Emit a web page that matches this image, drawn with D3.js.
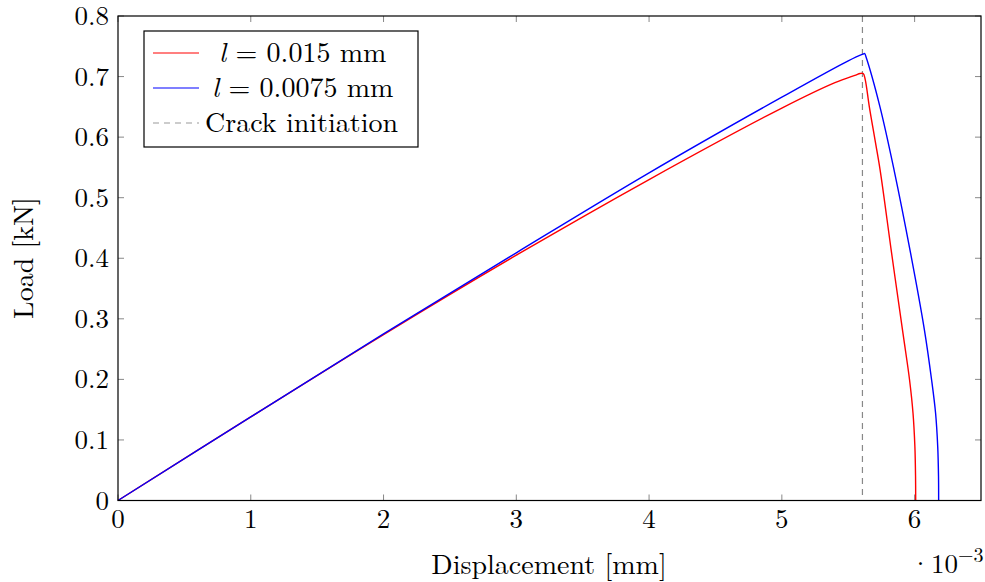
<!DOCTYPE html>
<html><head><meta charset="utf-8">
<script src="https://cdn.jsdelivr.net/npm/d3@7"></script>
<style>body{margin:0;background:#fff}svg{display:block}text{font-family:"Latin Modern Roman","CMU Serif","Liberation Serif","DejaVu Serif",serif;fill:#000}</style>
</head><body><svg id="c" width="985" height="582"></svg>
<script>
// displacement in 1e-3 mm, load in kN
const redX = [0, 1, 2, 3, 4, 5, 5.4, 5.55, 5.59, 5.613, 5.628, 5.659, 5.702, 5.740, 5.827, 5.913, 5.962, 5.988, 6.002, 6.007, 6.008];
const redY = [0, 0.138, 0.274, 0.405, 0.530, 0.648, 0.690, 0.702, 0.705, 0.705, 0.695, 0.650, 0.595, 0.546, 0.408, 0.275, 0.199, 0.144, 0.089, 0.04, 0];
const blueX = [0, 1, 2, 3, 4, 5, 5.5, 5.61, 5.624, 5.633, 5.739, 5.845, 5.970, 6.074, 6.128, 6.158, 6.174, 6.180, 6.181];
const blueY = [0, 0.138, 0.275, 0.409, 0.541, 0.666, 0.726, 0.737, 0.738, 0.733, 0.650, 0.546, 0.408, 0.2815, 0.199, 0.144, 0.089, 0.04, 0];
const crackX = 5.607;
const xTicks = [0, 1, 2, 3, 4, 5, 6];
const yTicks = [0, 0.1, 0.2, 0.3, 0.4, 0.5, 0.6, 0.7, 0.8];
const legendLabels = ["= 0.015 mm", "= 0.0075 mm", "Crack initiation"];

const svg = d3.select("#c");
const L = 118, R = 981, T = 16, B = 500.5;
const x = d3.scaleLinear().domain([0, 6.5]).range([L, R]);
const y = d3.scaleLinear().domain([0, 0.8]).range([B, T]);
const g = svg.append("g");
const tickLen = 6, tc = "#888";
const tfs = 27, lfs = 28;

xTicks.forEach(v => {
  g.append("line").attr("x1", x(v)).attr("x2", x(v)).attr("y1", B).attr("y2", B - tickLen).attr("stroke", tc);
  g.append("line").attr("x1", x(v)).attr("x2", x(v)).attr("y1", T).attr("y2", T + tickLen).attr("stroke", tc);
  g.append("text").attr("x", x(v)).attr("y", B + 27).attr("text-anchor", "middle").attr("font-size", tfs).text(v);
});
yTicks.forEach(v => {
  g.append("line").attr("x1", L).attr("x2", L + tickLen).attr("y1", y(v)).attr("y2", y(v)).attr("stroke", tc);
  g.append("line").attr("x1", R).attr("x2", R - tickLen).attr("y1", y(v)).attr("y2", y(v)).attr("stroke", tc);
  g.append("text").attr("x", L - 9).attr("y", y(v) + 9).attr("text-anchor", "end").attr("font-size", tfs).text(d3.format("")(v));
});

g.append("line").attr("x1", x(crackX)).attr("x2", x(crackX)).attr("y1", T).attr("y2", B)
  .attr("stroke", "#888").attr("stroke-width", 1.2).attr("stroke-dasharray", "6,5");

const lineX = (xs, ys) => d3.line().x((d, i) => x(xs[i])).y((d, i) => y(ys[i])).curve(d3.curveCatmullRom.alpha(0.5))(xs);
g.append("path").attr("d", lineX(redX, redY)).attr("fill", "none").attr("stroke", "#f00").attr("stroke-width", 1.4);
g.append("path").attr("d", lineX(blueX, blueY)).attr("fill", "none").attr("stroke", "#00f").attr("stroke-width", 1.4);

g.append("rect").attr("x", L).attr("y", T).attr("width", R - L).attr("height", B - T).attr("fill", "none").attr("stroke", "#000").attr("stroke-width", 1.2);

g.append("text").attr("x", 549).attr("y", 574).attr("text-anchor", "middle").attr("font-size", lfs).text("Displacement [mm]");
g.append("text").attr("transform", "translate(33,258) rotate(-90)").attr("text-anchor", "middle").attr("font-size", lfs).text("Load [kN]");
const m = g.append("text").attr("x", 910).attr("y", 573).attr("font-size", tfs);
m.append("tspan").text("·10");
m.append("tspan").attr("dy", -11).attr("font-size", 20).text("−3");

const lg = g.append("g");
lg.append("rect").attr("x", 144).attr("y", 31).attr("width", 274).attr("height", 116).attr("fill", "#fff").attr("stroke", "#000").attr("stroke-width", 1.2);
const cols = ["#f00", "#00f", "#999"];
legendLabels.forEach((t, i) => {
  const cy = 53 + i * 35;
  lg.append("line").attr("x1", 153).attr("x2", 199).attr("y1", cy).attr("y2", cy).attr("stroke", cols[i]).attr("stroke-width", 1.2)
    .attr("stroke-dasharray", i === 2 ? "6,5" : null);
  const tx = lg.append("text").attr("y", cy + 9).attr("font-size", lfs);
  if (i < 2) {
    tx.attr("x", i === 0 ? 219 : 212);
    tx.append("tspan").attr("font-style", "italic").text("l");
    tx.append("tspan").text(" " + t);
  } else {
    tx.attr("x", 205).text(t);
  }
});
</script></body></html>
